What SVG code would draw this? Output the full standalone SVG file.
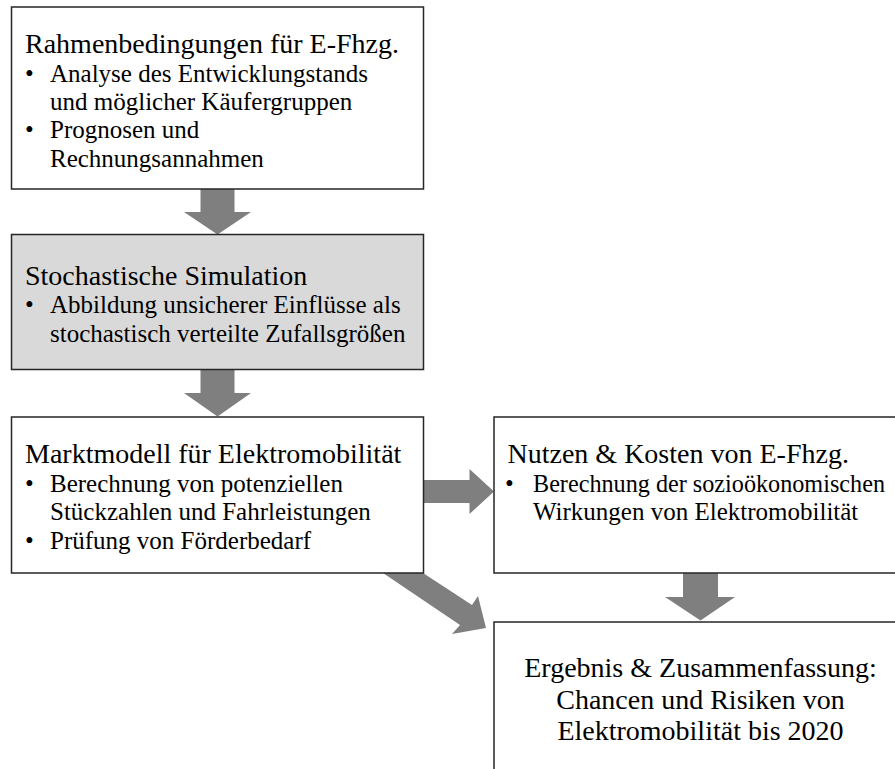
<svg xmlns="http://www.w3.org/2000/svg" width="895" height="769" viewBox="0 0 895 769">
  <style>
    .box { fill: #ffffff; stroke: #262626; stroke-width: 1.5; }
    .gray { fill: #d9d9d9; }
    .arrow { fill: #7f7f7f; stroke: none; }
    text { font-family: "Liberation Serif", "Times New Roman", serif; fill: #000000; }
    .title { font-size: 28px; }
    .item { font-size: 25px; }
    .center { font-size: 28px; text-anchor: middle; }
  </style>
  <rect width="895" height="769" fill="#ffffff"/>
  <g id="connectors">
    <polygon class="arrow" points="200.5,189 234.5,189 234.5,212 251,212 217.5,234.5 184,212 200.5,212"/>
    <polygon class="arrow" points="200.5,369.5 234.5,369.5 234.5,393 251,393 217.5,416.5 184,393 200.5,393"/>
    <polygon class="arrow" points="423.5,480 469.5,480 469.5,469 494,491.5 469.5,514 469.5,503 423.5,503"/>
    <polygon class="arrow" points="683,573 718,573 718,597 735,597 700.5,620.5 665,597 683,597"/>
    <polygon class="arrow" points="383,573 423,573 472,605 478,596 486,628 452,634 460,625"/>
  </g>
  <g id="rahmenbedingungen">
    <rect class="box" x="11.5" y="7" width="412" height="182"/>
    <text class="title" x="25" y="53">Rahmenbedingungen für E-Fhzg.</text>
    <text class="item" x="25" y="81.5">•</text>
    <text class="item" x="50" y="81.5">Analyse des Entwicklungstands</text>
    <text class="item" x="50" y="110">und möglicher Käufergruppen</text>
    <text class="item" x="25" y="138">•</text>
    <text class="item" x="50" y="138">Prognosen und</text>
    <text class="item" x="50" y="166.5">Rechnungsannahmen</text>
  </g>
  <g id="simulation">
    <rect class="box gray" x="11.5" y="234.5" width="412" height="135"/>
    <text class="title" x="25" y="284.5">Stochastische Simulation</text>
    <text class="item" x="25" y="313">•</text>
    <text class="item" x="50" y="313">Abbildung unsicherer Einflüsse als</text>
    <text class="item" x="50" y="341.5">stochastisch verteilte Zufallsgrößen</text>
  </g>
  <g id="marktmodell">
    <rect class="box" x="11.5" y="417" width="412" height="156"/>
    <text class="title" x="25" y="463">Marktmodell für Elektromobilität</text>
    <text class="item" x="25" y="491.5">•</text>
    <text class="item" x="50" y="491.5">Berechnung von potenziellen</text>
    <text class="item" x="50" y="520">Stückzahlen und Fahrleistungen</text>
    <text class="item" x="25" y="548.5">•</text>
    <text class="item" x="50" y="548.5">Prüfung von Förderbedarf</text>
  </g>
  <g id="nutzen-kosten">
    <rect class="box" x="494" y="417" width="412" height="156"/>
    <text class="title" x="507.5" y="463">Nutzen &amp; Kosten von E-Fhzg.</text>
    <text class="item" x="505" y="491.5">•</text>
    <text class="item" x="533" y="491.5" style="font-size:24.2px">Berechnung der sozioökonomischen</text>
    <text class="item" x="533" y="520">Wirkungen von Elektromobilität</text>
  </g>
  <g id="ergebnis">
    <rect class="box" x="494" y="622" width="412" height="160"/>
    <text class="center" x="700.5" y="677">Ergebnis &amp; Zusammenfassung:</text>
    <text class="center" x="700.5" y="708.5">Chancen und Risiken von</text>
    <text class="center" x="700.5" y="740">Elektromobilität bis 2020</text>
  </g>
</svg>
